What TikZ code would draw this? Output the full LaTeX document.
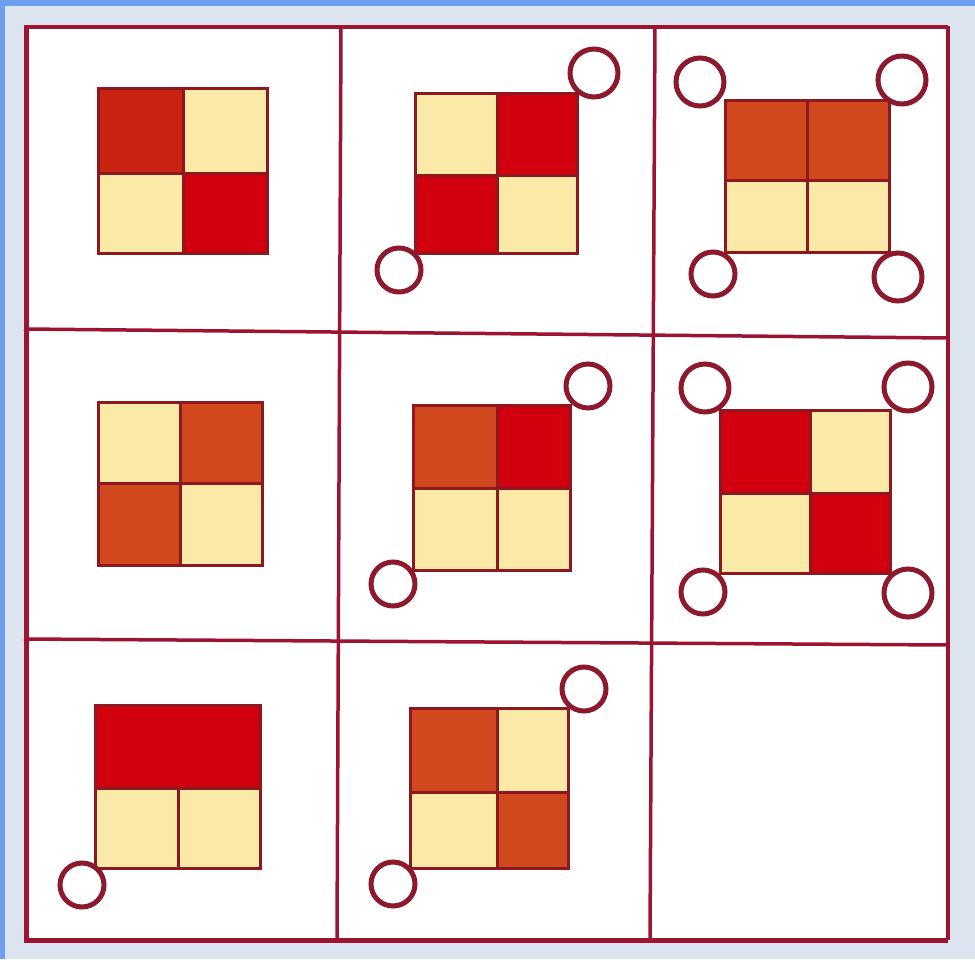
\documentclass[tikz,border=0pt]{standalone}
\begin{document}
\begin{tikzpicture}[x=1pt,y=-1pt]
\definecolor{bgc}{HTML}{DCE4F0}
\definecolor{bluec}{HTML}{6C9FF0}
\definecolor{gridc}{HTML}{9C1430}
\definecolor{redc}{HTML}{D2000E}
\definecolor{dredc}{HTML}{C92412}
\definecolor{brc}{HTML}{D2481E}
\definecolor{yelc}{HTML}{FBE9A8}
\definecolor{edgec}{HTML}{8E1820}
\definecolor{ringc}{HTML}{8C1A2C}
\tikzset{
  gridline/.style={draw=gridc,line width=3.5pt},
  sqline/.style={draw=edgec,line width=3pt},
  ring/.style={draw=ringc,line width=5pt},
}
\useasboundingbox (0,0) rectangle (975,959);
% background
\fill[bgc] (0,0) rectangle (975,959);
\fill[bluec] (0,0) rectangle (975,6);
\fill[bluec] (0,0) rectangle (5,959);
% panel
\fill[white] (24,26) rectangle (948,938);
\draw[draw=gridc,line width=5pt] (26,26) -- (26,940) -- (948,940);
\draw[draw=gridc,line width=4pt] (948,26) -- (948,940);
\draw[gridline] (24,27) -- (948,27);
% grid
\draw[gridline] (341,26) -- (337,938);
\draw[gridline] (655,26) -- (650,938);
\draw[gridline] (24,329) -- (948,338);
\draw[gridline] (24,639) -- (948,645);

% cell (1,1)
\fill[dredc] (98,88) rectangle (183,173);
\fill[yelc] (183,88) rectangle (267,173);
\fill[yelc] (98,173) rectangle (183,253);
\fill[redc] (183,173) rectangle (267,253);
\draw[sqline] (98,88) rectangle (267,253) (183,88) -- (183,253) (98,173) -- (267,173);

% cell (1,2)
\fill[yelc] (415,93) rectangle (497,175);
\fill[redc] (497,93) rectangle (577,175);
\fill[redc] (415,175) rectangle (497,253);
\fill[yelc] (497,175) rectangle (577,253);
\draw[sqline] (415,93) rectangle (577,253) (497,93) -- (497,253) (415,175) -- (577,175);
\draw[ring] (594,73) circle[radius=24pt];
\draw[ring] (399,270) circle[radius=22pt];

% cell (1,3)
\fill[brc] (725,100) rectangle (807,180);
\fill[brc] (807,100) rectangle (889,180);
\fill[yelc] (725,180) rectangle (807,252);
\fill[yelc] (807,180) rectangle (889,252);
\draw[sqline] (725,100) rectangle (889,252) (807,100) -- (807,252) (725,180) -- (889,180);
\draw[ring] (700,82) circle[radius=24pt];
\draw[ring] (902,80) circle[radius=24pt];
\draw[ring] (713,274) circle[radius=22pt];
\draw[ring] (898,277) circle[radius=24pt];

% cell (2,1)
\fill[yelc] (98,402) rectangle (180,483);
\fill[brc] (180,402) rectangle (262,483);
\fill[brc] (98,483) rectangle (180,565);
\fill[yelc] (180,483) rectangle (262,565);
\draw[sqline] (98,402) rectangle (262,565) (180,402) -- (180,565) (98,483) -- (262,483);

% cell (2,2)
\fill[brc] (413,405) rectangle (497,488);
\fill[redc] (497,405) rectangle (570,488);
\fill[yelc] (413,488) rectangle (497,570);
\fill[yelc] (497,488) rectangle (570,570);
\draw[sqline] (413,405) rectangle (570,570) (497,405) -- (497,570) (413,488) -- (570,488);
\draw[ring] (588,386) circle[radius=22pt];
\draw[ring] (393,584) circle[radius=22pt];

% cell (2,3)
\fill[redc] (720,410) rectangle (810,493);
\fill[yelc] (810,410) rectangle (890,493);
\fill[yelc] (720,493) rectangle (810,573);
\fill[redc] (810,493) rectangle (890,573);
\draw[sqline] (720,410) rectangle (890,573) (810,410) -- (810,573) (720,493) -- (890,493);
\draw[ring] (705,388) circle[radius=24pt];
\draw[ring] (908,387) circle[radius=24pt];
\draw[ring] (703,592) circle[radius=22pt];
\draw[ring] (908,593) circle[radius=24pt];

% cell (3,1)
\fill[redc] (95,705) rectangle (260,788);
\fill[yelc] (95,788) rectangle (178,868);
\fill[yelc] (178,788) rectangle (260,868);
\draw[sqline] (95,705) rectangle (260,868) (178,788) -- (178,868) (95,788) -- (260,788);
\draw[ring] (82,885) circle[radius=22pt];

% cell (3,2)
\fill[brc] (410,708) rectangle (497,792);
\fill[yelc] (497,708) rectangle (568,792);
\fill[yelc] (410,792) rectangle (497,868);
\fill[brc] (497,792) rectangle (568,868);
\draw[sqline] (410,708) rectangle (568,868) (497,708) -- (497,868) (410,792) -- (568,792);
\draw[ring] (584,689) circle[radius=22pt];
\draw[ring] (393,884) circle[radius=22pt];
\end{tikzpicture}
\end{document}
